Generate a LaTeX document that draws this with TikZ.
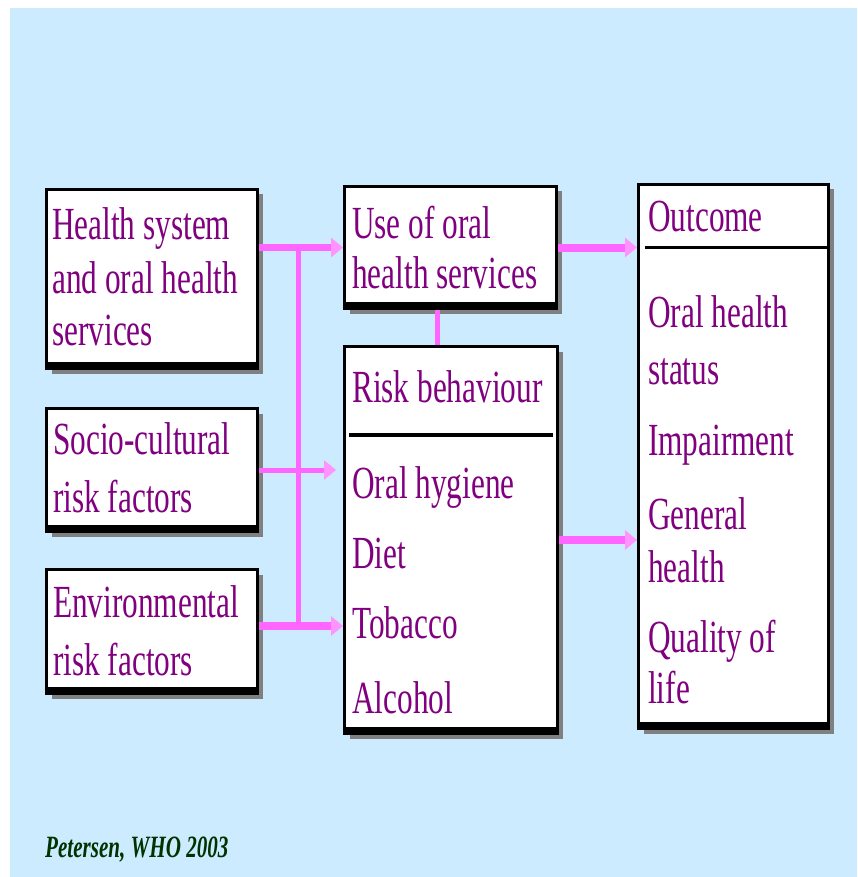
\documentclass[tikz,border=0pt]{standalone}
\usepackage{fontspec}
\setmainfont{Liberation Serif}[FakeStretch=0.68]
\usetikzlibrary{arrows.meta,shadows}

\definecolor{skyback}{HTML}{CCEBFF}
\definecolor{linkpink}{HTML}{FF66FF}
\definecolor{textpurple}{HTML}{800080}
\definecolor{citegreen}{HTML}{003300}

\tikzset{
  box/.style={draw=black, line width=3pt, fill=white, inner sep=0pt, outer sep=0pt,
    drop shadow={shadow xshift=5pt, shadow yshift=-5pt, fill=gray, opacity=1}},
  txt/.style={anchor=base west, inner sep=0pt, text=textpurple,
    font=\fontsize{46}{50}\selectfont},
  link/.style={draw=linkpink, line width=5pt, shorten <=1.5pt},
  linkarrow/.style={-{Triangle[length=12pt,width=19pt,color=linkpink!70]}, shorten >=1.5pt},
}

\begin{document}
\begin{tikzpicture}[x=1pt,y=-1pt]
\fill[white] (0,0) rectangle (857,877);
\useasboundingbox (0,0) rectangle (857,877);
\fill[skyback] (10,8) rectangle (857,877);

% boxes
\node[box, minimum width=211pt, minimum height=179pt] (health) at (152,279) {};
\node[box, minimum width=211pt, minimum height=123pt] (socio) at (152,470) {};
\node[box, minimum width=211pt, minimum height=124pt] (env) at (152,631.5) {};
\node[box, minimum width=212pt, minimum height=122pt] (use) at (450.5,247.5) {};
\node[box, minimum width=213pt, minimum height=387pt] (risk) at (451,540) {};
\node[box, minimum width=190pt, minimum height=544pt] (outcome) at (733.5,456.5) {};

% heavier lower edge
\foreach \b in {health,socio,env,use,risk,outcome}
  \fill ([xshift=-1.5pt,yshift=-1.5pt]\b.south west) rectangle ([xshift=1.5pt,yshift=6.5pt]\b.south east);

% dividers
\draw[line width=4pt] (349,435) -- (553,435);
\draw[line width=3pt] (645,247) -- (outcome.east |- 0,247);

% connectors
\coordinate (bus) at (298,0);
\coordinate (envout) at ([yshift=5.5pt]env.east);
\draw[link, shorten <=0pt] (bus |- use.west) -- (bus |- envout);
\draw[link, line width=7pt, linkarrow] (health.east |- use.west) -- (use.west);
\draw[link, linkarrow] (socio.east) -- ([xshift=-7pt]risk.west |- socio.east);
\draw[link, line width=8pt, linkarrow] (envout) -- (risk.west |- envout);
\draw[link, shorten >=1.5pt] ([xshift=-13.5pt]use.south) -- ([xshift=-14pt]risk.north);
\draw[link, line width=8pt, linkarrow] (use.east) -- (outcome.west |- use.east);
\draw[link, line width=8pt, linkarrow] (risk.east) -- (outcome.west |- risk.east);

% texts
\node[txt] (health1) at (52,240) {Health system};
\node[txt] (health2) at (52,293) {and oral health};
\node[txt] (health3) at (52,345) {services};

\node[txt] (socio1) at (53,454) {Socio-cultural};
\node[txt] (socio2) at (53,512) {risk factors};

\node[txt] (env1) at (53,617) {Environmental};
\node[txt] (env2) at (53,675) {risk factors};

\node[txt] (use1) at (352,239) {Use of oral};
\node[txt] (use2) at (352,288) {health services};

\node[txt] (risk1) at (352,402) {Risk behaviour};
\node[txt] (risk2) at (352,498) {Oral hygiene};
\node[txt] (risk3) at (352,568) {Diet};
\node[txt] (risk4) at (352,638) {Tobacco};
\node[txt] (risk5) at (352,713) {Alcohol};

\node[txt] (out1) at (648,232) {Outcome};
\node[txt] (out2) at (648,327) {Oral health};
\node[txt] (out3) at (648,384) {status};
\node[txt] (out4) at (648,455) {Impairment};
\node[txt] (out5) at (648,529) {General};
\node[txt] (out6) at (648,582) {health};
\node[txt] (out7) at (648,652) {Quality of};
\node[txt] (out8) at (648,703) {life};

% source
\node[anchor=base west, inner sep=0pt, text=citegreen,
  font=\fontsize{31}{35}\selectfont\bfseries\itshape] (source) at (45,857) {Petersen, WHO 2003};
\end{tikzpicture}
\end{document}
